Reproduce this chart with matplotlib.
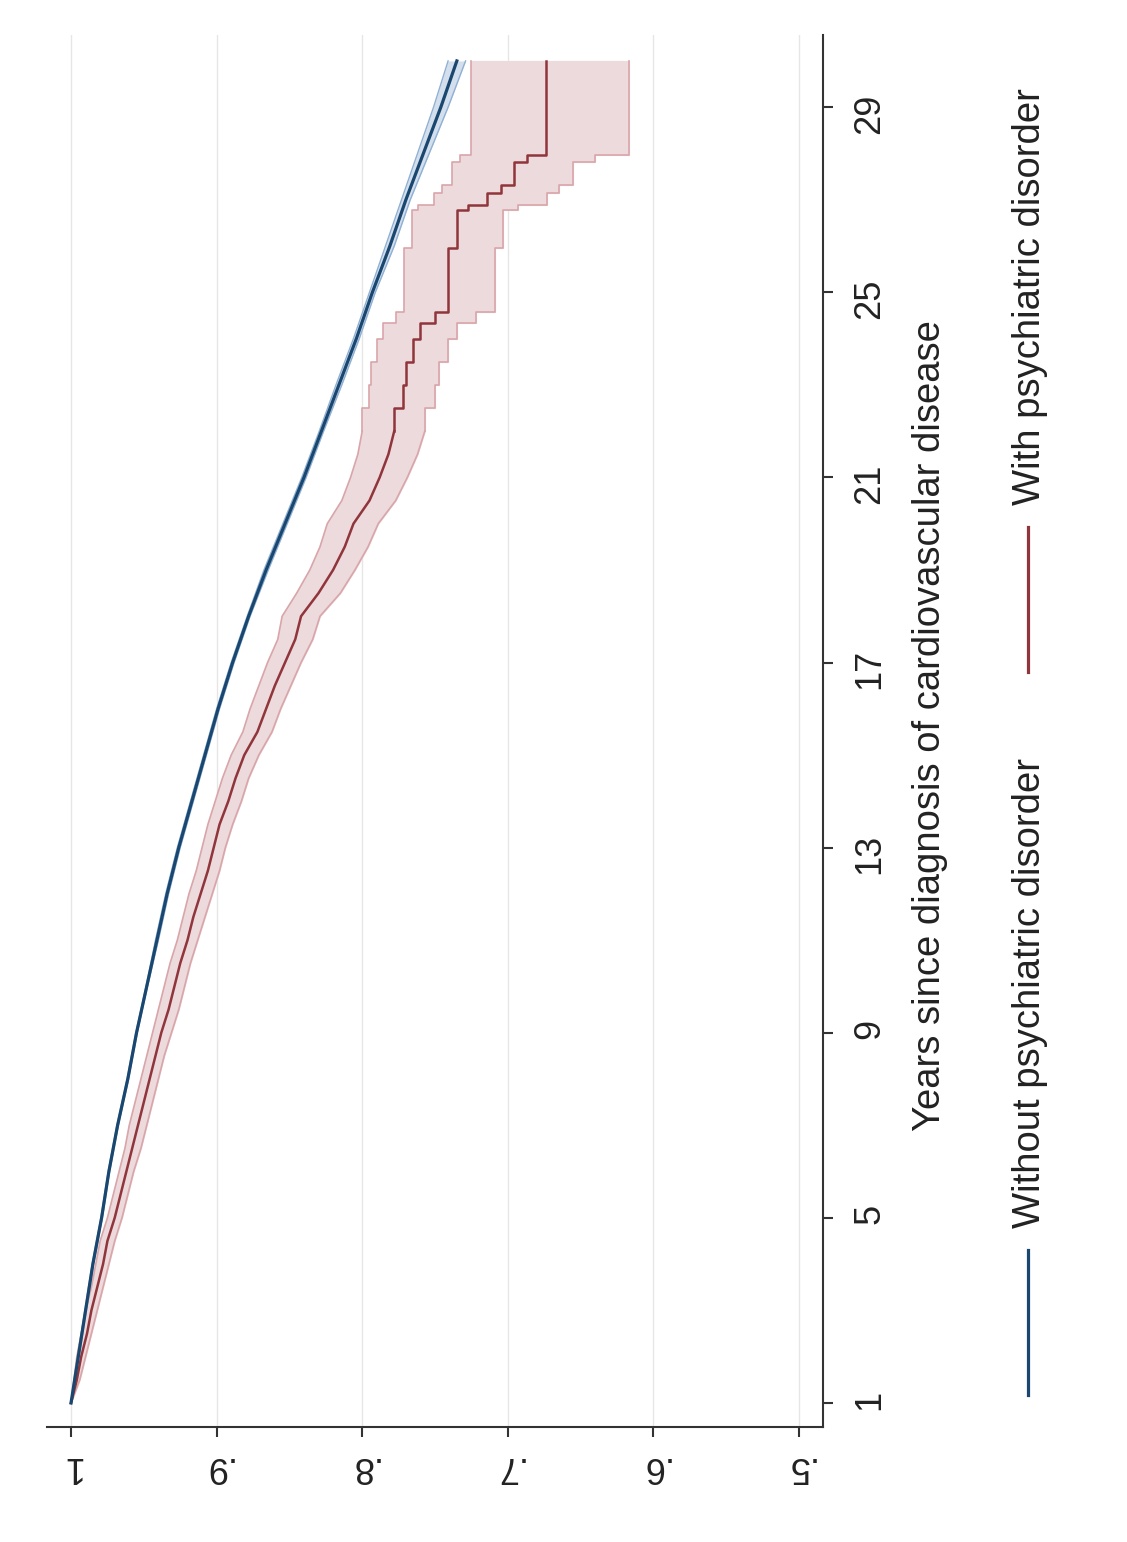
import numpy as np
import matplotlib
matplotlib.use("Agg")
import matplotlib.pyplot as plt
from matplotlib.lines import Line2D

plt.rcParams["font.family"] = ["Liberation Sans", "DejaVu Sans"]

# Kaplan-Meier survival, without psychiatric disorder (yearly)
years_without = [1, 2, 3, 4, 5, 6, 7, 8, 9, 10, 11, 12, 13, 14, 15,
                 16, 17, 18, 19, 20, 21, 22, 23, 24, 25, 26, 27, 28, 29, 30]
surv_without = [1.000, 0.995, 0.990, 0.985, 0.979, 0.974, 0.968, 0.961, 0.955, 0.948,
                0.941, 0.934, 0.926, 0.917, 0.908, 0.899, 0.889, 0.878, 0.866, 0.853,
                0.840, 0.828, 0.816, 0.804, 0.793, 0.781, 0.770, 0.758, 0.746, 0.735]
hi_without = [1.000, 0.9955, 0.9905, 0.9855, 0.9795, 0.9745, 0.9685, 0.9615, 0.9555, 0.9485,
              0.942, 0.935, 0.927, 0.918, 0.909, 0.900, 0.890, 0.879, 0.8675, 0.8545,
              0.8415, 0.8295, 0.818, 0.806, 0.795, 0.784, 0.773, 0.762, 0.751, 0.741]
lo_without = [1.000, 0.9945, 0.9895, 0.9845, 0.9785, 0.9735, 0.9675, 0.9605, 0.9545, 0.9475,
              0.940, 0.933, 0.925, 0.916, 0.907, 0.898, 0.888, 0.877, 0.8645, 0.8515,
              0.8385, 0.8265, 0.814, 0.802, 0.791, 0.778, 0.767, 0.754, 0.741, 0.729]

# Kaplan-Meier survival, with psychiatric disorder
years_with = [1.0, 1.5, 2.0, 2.5, 3.0, 3.5, 4.0, 4.5, 5.0, 5.5, 6.0, 6.5, 7.0, 7.5,
              8.0, 8.5, 9.0, 9.5, 10.0, 10.5, 11.0, 11.5, 12.0, 12.5, 13.0, 13.5,
              14.0, 14.5, 15.0, 15.5, 16.0, 16.5, 17.0, 17.5, 18.0, 18.5, 19.0, 19.5,
              20.0, 20.5, 21.0, 21.5, 22.0, 22.5, 23.0, 23.5, 24.0, 24.33, 24.57,
              25.95, 26.77, 26.88, 27.14, 27.31, 27.82, 27.96, 30.0]
surv_with = [1.000, 0.996, 0.993, 0.989, 0.986, 0.982, 0.978, 0.975, 0.970, 0.966,
             0.962, 0.958, 0.954, 0.950, 0.946, 0.942, 0.938, 0.933, 0.929, 0.925,
             0.920, 0.916, 0.911, 0.906, 0.902, 0.898, 0.892, 0.887, 0.881, 0.872,
             0.866, 0.860, 0.853, 0.846, 0.842, 0.830, 0.820, 0.812, 0.806, 0.795,
             0.788, 0.782, 0.778, 0.772, 0.770, 0.765, 0.760, 0.750, 0.741,
             0.735, 0.727, 0.714, 0.705, 0.696, 0.687, 0.674, 0.674]
hi_with = [1.000, 0.998, 0.996, 0.993, 0.990, 0.986, 0.983, 0.980, 0.975, 0.971,
           0.967, 0.963, 0.960, 0.956, 0.952, 0.948, 0.944, 0.940, 0.936, 0.932,
           0.927, 0.923, 0.919, 0.914, 0.910, 0.906, 0.901, 0.896, 0.890, 0.882,
           0.877, 0.871, 0.865, 0.858, 0.855, 0.845, 0.836, 0.829, 0.824, 0.814,
           0.808, 0.803, 0.800, 0.795, 0.794, 0.790, 0.786, 0.777, 0.771,
           0.766, 0.762, 0.751, 0.745, 0.738, 0.733, 0.725, 0.725]
lo_with = [1.000, 0.994, 0.990, 0.986, 0.982, 0.978, 0.974, 0.970, 0.965, 0.961,
           0.957, 0.952, 0.948, 0.944, 0.940, 0.936, 0.931, 0.926, 0.922, 0.918,
           0.913, 0.908, 0.903, 0.898, 0.894, 0.889, 0.883, 0.878, 0.871, 0.862,
           0.856, 0.849, 0.842, 0.834, 0.829, 0.815, 0.805, 0.796, 0.789, 0.777,
           0.769, 0.762, 0.757, 0.750, 0.747, 0.741, 0.735, 0.722, 0.709,
           0.703, 0.693, 0.673, 0.665, 0.655, 0.640, 0.617, 0.617]
# fewer patients remain later on, so the curve is drawn as visible steps
step_from = 22.0

surv_ticks = [1, 0.9, 0.8, 0.7, 0.6, 0.5]
surv_labels = ["1", ".9", ".8", ".7", ".6", ".5"]
year_ticks = [1, 5, 9, 13, 17, 21, 25, 29]

legend_labels = ["Without psychiatric disorder", "With psychiatric disorder"]
axis_title = "Years since diagnosis of cardiovascular disease"

navy = "#1a476f"
maroon = "#90353b"
ink = "#333333"

W, H = 1127, 1542
fig = plt.figure(figsize=(W / 100, H / 100), dpi=100)
fig.patch.set_facecolor("white")

def fx(px):
    return px / W

def fy(py):
    return 1 - py / H

# plot region laid out on its side: survival runs left-to-right, time bottom-to-top
ax = fig.add_axes([fx(47), fy(1427), fx(823) - fx(47), fy(35) - fy(1427)])
ax.set_xlim(1.0165, 0.4835)
ax.set_ylim(0.48, 30.56)

for s in surv_ticks:
    ax.axvline(s, color="#e6e6e6", lw=1.0, zorder=0)

k = years_with.index(step_from)
early = slice(0, k + 1)
late = slice(k, None)

# confidence band, with psychiatric disorder
band_face = "#ecdadc"
band_edge = "#d9a5a9"
ax.fill_betweenx(years_with[early], lo_with[early], hi_with[early],
                 facecolor=band_face, edgecolor=band_face, lw=0.8, zorder=1)
ax.fill_betweenx(years_with[late], lo_with[late], hi_with[late], step="post",
                 facecolor=band_face, edgecolor=band_face, lw=0.8, zorder=1)
for bound in (lo_with, hi_with):
    ax.plot(bound[early], years_with[early], color=band_edge, lw=1.2, zorder=2)
    ax.plot(bound[late], years_with[late], drawstyle="steps-pre",
            color=band_edge, lw=1.2, zorder=2)

# confidence band, without psychiatric disorder
ax.fill_betweenx(years_without, lo_without, hi_without,
                 color="#d3dfed", lw=0, zorder=1)
ax.plot(lo_without, years_without, color="#8fb0d4", lw=1.0, zorder=2)
ax.plot(hi_without, years_without, color="#8fb0d4", lw=1.0, zorder=2)

# survival curves
ax.plot(surv_with[early], years_with[early], color=maroon, lw=1.8, zorder=3)
ax.plot(surv_with[late], years_with[late], drawstyle="steps-pre",
        color=maroon, lw=1.8, zorder=3)
ax.plot(surv_without, years_without, color=navy, lw=2.3, zorder=3)

for side in ["top", "left"]:
    ax.spines[side].set_visible(False)
for side in ["bottom", "right"]:
    ax.spines[side].set_color(ink)
    ax.spines[side].set_linewidth(1.5)

ax.set_xticks(surv_ticks)
ax.set_xticklabels(surv_labels)
ax.yaxis.tick_right()
ax.set_yticks(year_ticks)
ax.set_yticklabels([str(y) for y in year_ticks])
ax.tick_params(axis="x", direction="out", length=7, width=1.5, color=ink,
               labelsize=26, labelrotation=180, pad=9, labelcolor="#222222")
ax.tick_params(axis="y", direction="out", length=7, width=1.5, color=ink,
               labelsize=26, labelrotation=90, pad=14, labelcolor="#222222")

fig.text(fx(930), fy(726), axis_title, rotation=90, rotation_mode="anchor",
         ha="center", va="center", fontsize=27.5, color="#222222")

# legend keys and labels
legend_rows = [(1395, 1250, 1228, navy), (672, 527, 505, maroon)]
for (key_start, key_end, text_start, color), label in zip(legend_rows, legend_labels):
    fig.add_artist(Line2D([fx(1028), fx(1028)], [fy(key_start), fy(key_end)],
                          transform=fig.transFigure, color=color, lw=2.3))
    fig.text(fx(1030), fy(text_start), label, rotation=90, rotation_mode="anchor",
             ha="left", va="center", fontsize=27.5, color="#222222")

fig.savefig("out.png", dpi=100, facecolor="white")
